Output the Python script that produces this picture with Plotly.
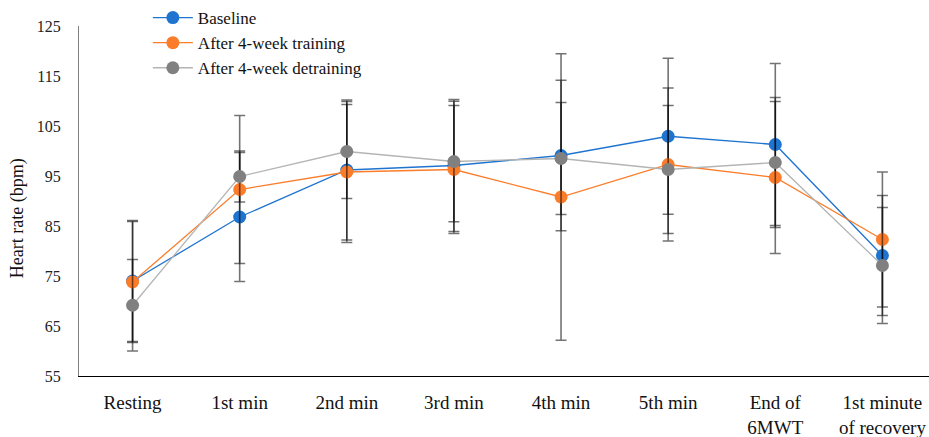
import plotly.graph_objects as go

# Heart rate during the six-minute walk test (mean ± SD)
stages = ["Resting", "1st min", "2nd min", "3rd min", "4th min", "5th min",
          "End of<br>6MWT", "1st minute<br>of recovery"]

baseline_mean = [74.0, 86.8, 96.2, 97.1, 99.1, 102.95, 101.3, 79.1]
baseline_sd = [12.1, 12.9, 14.0, 13.2, 15.05, 15.6, 16.2, 12.0]

training_mean = [73.8, 92.3, 95.8, 96.3, 90.8, 97.3, 94.7, 82.3]
training_sd = [12.1, 14.8, 14.1, 12.8, 28.66, 15.3, 15.2, 13.5]

detraining_mean = [69.15, 94.9, 99.9, 97.9, 98.5, 96.3, 97.7, 77.1]
detraining_sd = [9.15, 5.1, 9.4, 12.05, 11.2, 12.8, 13.0, 11.6]

y_ticks = [55, 65, 75, 85, 95, 105, 115, 125]

FONT = "Liberation Serif"
ERR_COLOR = "rgba(0,0,0,0.55)"

series = [
    ("Baseline", baseline_mean, baseline_sd, "#1f74cf", "#1f74cf"),
    ("After 4-week training", training_mean, training_sd, "#fb7d2b", "#fb7d2b"),
    ("After 4-week detraining", detraining_mean, detraining_sd, "#b4b4b4", "#808080"),
]

fig = go.Figure()
for name, mean, sd, line_c, marker_c in series:
    fig.add_trace(go.Scatter(
        x=stages, y=mean, name=name, mode="lines+markers",
        line=dict(color=line_c, width=1.3),
        marker=dict(color=marker_c, size=13),
        error_y=dict(type="data", array=sd, visible=True,
                     color=ERR_COLOR, thickness=1.6, width=5.5),
    ))

fig.update_layout(
    width=929, height=437,
    margin=dict(l=79, r=0, t=26, b=61),
    paper_bgcolor="white", plot_bgcolor="white",
    font=dict(family=FONT, size=16, color="#222222"),
    showlegend=True,
    legend=dict(x=0.081, y=1.075, xanchor="left", yanchor="top",
                bgcolor="rgba(0,0,0,0)", font=dict(size=17, family=FONT, color="#111111"),
                tracegroupgap=0, itemwidth=40),
)

fig.update_xaxes(
    type="category", range=[-0.5, 7.435], automargin=False,
    showline=True, linecolor="#000000", linewidth=1.2,
    showgrid=False, zeroline=False, ticks="",
    tickfont=dict(size=19, family=FONT, color="#111111"),
    ticklabelstandoff=9,
)
fig.update_yaxes(
    range=[55, 125], tickvals=y_ticks, ticktext=[str(v) for v in y_ticks],
    automargin=False,
    showline=True, linecolor="#808080", linewidth=1.2,
    showgrid=False, zeroline=False, ticks="",
    tickfont=dict(size=16, family=FONT, color="#222222"),
    ticklabelstandoff=14,
)

fig.add_annotation(
    text="Heart rate (bpm)", textangle=-90, showarrow=False,
    xref="paper", yref="paper", x=-0.072, y=0.45, xanchor="center", yanchor="middle",
    font=dict(size=18, family=FONT, color="#111111"),
)

fig.write_html("out.html")
